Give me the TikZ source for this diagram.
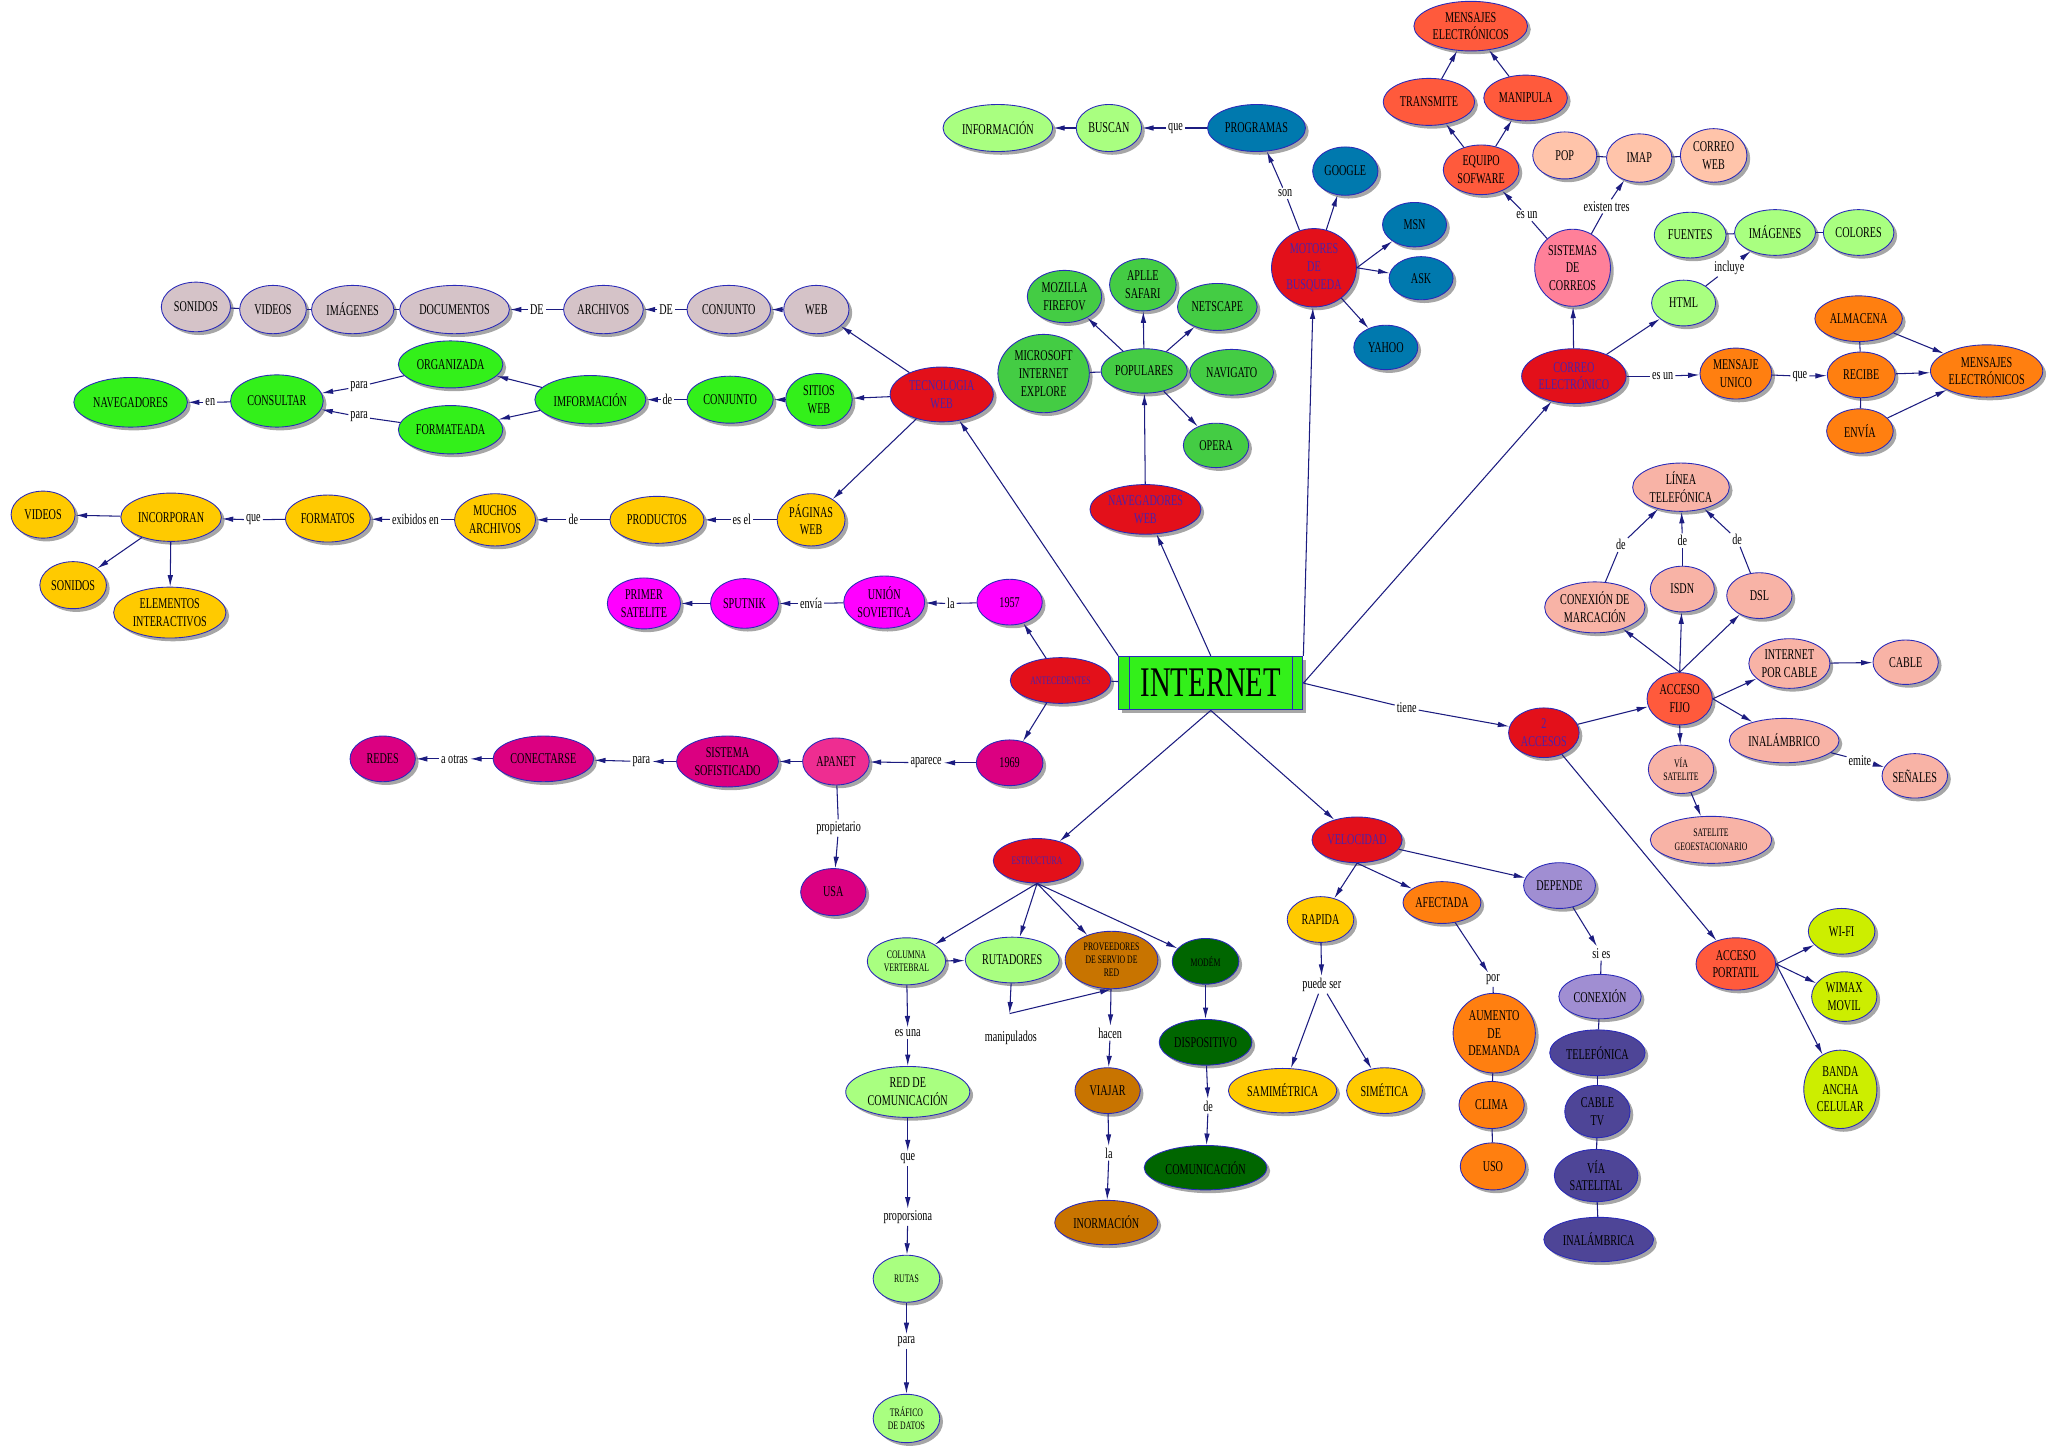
\documentclass[tikz,border=0pt]{standalone}
\usepackage{fontspec}
\setmainfont{Liberation Serif}[FakeStretch=0.68]
\usetikzlibrary{shapes.geometric,arrows.meta,shadows}

\definecolor{rojo}{HTML}{E3101A}
\definecolor{txtrojo}{HTML}{4A22AA}
\definecolor{grisrosa}{HTML}{D5C3C8}
\definecolor{verde}{HTML}{33F01A}
\definecolor{amarillo}{HTML}{FFCA00}
\definecolor{fucsia}{HTML}{FF00FF}
\definecolor{rosaosc}{HTML}{DB0081}
\definecolor{rosa}{HTML}{EE2D91}
\definecolor{verdeclaro}{HTML}{A9FF80}
\definecolor{cafe}{HTML}{C87400}
\definecolor{verdeosc}{HTML}{006600}
\definecolor{naranja}{HTML}{FF7F10}
\definecolor{lavanda}{HTML}{A08ED2}
\definecolor{morado}{HTML}{4E4597}
\definecolor{salmon}{HTML}{F8B3A6}
\definecolor{rojonar}{HTML}{FF5A3C}
\definecolor{limon}{HTML}{CCEE00}
\definecolor{azul}{HTML}{0079AE}
\definecolor{verdemed}{HTML}{44CC44}
\definecolor{rosasis}{HTML}{FF8099}
\definecolor{durazno}{HTML}{FFC4AA}
\definecolor{linea}{HTML}{1C1C80}
\definecolor{borde}{HTML}{2A2AB8}

\tikzset{
  concepto/.style={ellipse, draw=borde, line width=0.5pt, inner sep=0.5pt, align=center,
    font=\fontsize{8.5}{10}\selectfont,
    drop shadow={shadow xshift=0.65mm, shadow yshift=-0.65mm, fill=gray!70, opacity=1}},
  chico/.style={font=\fontsize{6.5}{7.5}\selectfont},
  enlace/.style={inner sep=1pt, font=\fontsize{8.5}{10}\selectfont},
  sz/.style 2 args={minimum width=#1*0.2612mm, minimum height=#2*0.2612mm},
  crojo/.style={concepto, fill=rojo, text=txtrojo, font=\fontsize{8.5}{10}\selectfont},
  cgris/.style={concepto, fill=grisrosa},
  cverde/.style={concepto, fill=verde},
  camar/.style={concepto, fill=amarillo},
  cfucsia/.style={concepto, fill=fucsia},
  crosaosc/.style={concepto, fill=rosaosc},
  crosa/.style={concepto, fill=rosa},
  cvclaro/.style={concepto, fill=verdeclaro},
  ccafe/.style={concepto, fill=cafe},
  cvosc/.style={concepto, fill=verdeosc},
  cnar/.style={concepto, fill=naranja},
  clav/.style={concepto, fill=lavanda},
  cmor/.style={concepto, fill=morado},
  csal/.style={concepto, fill=salmon},
  crojonar/.style={concepto, fill=rojonar},
  climon/.style={concepto, fill=limon},
  cazul/.style={concepto, fill=azul},
  cvmed/.style={concepto, fill=verdemed},
  crosasis/.style={concepto, fill=rosasis},
  cdur/.style={concepto, fill=durazno},
}

\begin{document}
\begin{tikzpicture}[x=0.2612mm, y=-0.2612mm, >={Latex[length=2.3mm,width=1.1mm]}]
  \useasboundingbox (0,0) rectangle (1568,1109);
  % centro
  \node[draw=borde, fill=verde, line width=0.6pt, sz={141}{41}, font=\fontsize{24}{24}\selectfont,
    drop shadow={shadow xshift=0.65mm, shadow yshift=-0.65mm, fill=gray!70, opacity=1}] (inet) at (927,523) {INTERNET};
  \draw[borde, line width=0.6pt] ([xshift=2.2mm]inet.north west) -- ([xshift=2.2mm]inet.south west);
  \draw[borde, line width=0.6pt] ([xshift=-2.2mm]inet.north east) -- ([xshift=-2.2mm]inet.south east);

  % tecnologia web
  \node[crojo, sz={79}{42}] (tec) at (721,302) {TECNOLOGIA\\WEB};
  \node[cgris, sz={50}{37}] (web) at (625,237) {WEB};
  \node[cgris, sz={64}{37}] (conj1) at (558,237) {CONJUNTO};
  \node[cgris, sz={61}{37}] (arch) at (462,237) {ARCHIVOS};
  \node[cgris, sz={84}{37}] (docu) at (348,237) {DOCUMENTOS};
  \node[cgris, sz={63}{37}] (imag1) at (270,237) {IMÁGENES};
  \node[cgris, sz={51}{37}] (vid1) at (209,237) {VIDEOS};
  \node[cgris, sz={53}{38}] (son1) at (150,235) {SONIDOS};
  \node[enlace] (lde1) at (510,237) {DE};
  \node[enlace] (lde2) at (411,237) {DE};
  \node[cverde, sz={51}{40}] (sitios) at (627,306) {SITIOS\\WEB};
  \node[cverde, sz={66}{36}] (conj2) at (559,306) {CONJUNTO};
  \node[cverde, sz={85}{37}] (imfo) at (452,306) {IMFORMACIÓN};
  \node[cverde, sz={80}{36}] (orga) at (345,279) {ORGANIZADA};
  \node[cverde, sz={80}{37}] (form1) at (345,329) {FORMATEADA};
  \node[cverde, sz={71}{40}] (consul) at (212,307) {CONSULTAR};
  \node[cverde, sz={87}{38}] (nave1) at (100,308) {NAVEGADORES};
  \node[enlace] (lde3) at (511,306) {de};
  \node[enlace] (lpara1) at (275,296) {para};
  \node[enlace] (lpara2) at (275,319) {para};
  \node[enlace] (len) at (161,308) {en};
  \node[camar, sz={52}{40}] (pag) at (621,398) {PÁGINAS\\WEB};
  \node[camar, sz={72}{36}] (prod) at (503,398) {PRODUCTOS};
  \node[camar, sz={62}{40}] (much) at (379,398) {MUCHOS\\ARCHIVOS};
  \node[camar, sz={65}{36}] (formt) at (251,397) {FORMATOS};
  \node[camar, sz={77}{37}] (incor) at (131,396) {INCORPORAN};
  \node[camar, sz={49}{36}] (vid2) at (33,394) {VIDEOS};
  \node[camar, sz={51}{36}] (son2) at (56,448) {SONIDOS};
  \node[camar, sz={86}{39}] (elem) at (130,469) {ELEMENTOS\\INTERACTIVOS};
  \node[enlace] (lesel) at (568,398) {es el};
  \node[enlace] (lde4) at (439,398) {de};
  \node[enlace] (lexib) at (318,398) {exibidos en};
  \node[enlace] (lque1) at (194,398) {que};

  % antecedentes
  \node[crojo, chico, sz={77}{35}] (ante) at (812,521) {ANTECEDENTES};
  \node[cfucsia, sz={50}{35}] (a1957) at (773,461) {1957};
  \node[cfucsia, sz={62}{40}] (union) at (677,461) {UNIÓN\\SOVIETICA};
  \node[cfucsia, sz={52}{38}] (sput) at (570,462) {SPUTNIK};
  \node[cfucsia, sz={56}{39}] (primer) at (493,462) {PRIMER\\SATELITE};
  \node[enlace] (lla1) at (728,462) {la};
  \node[enlace] (lenvia) at (621,462) {envía};
  \node[crosaosc, sz={51}{35}] (a1969) at (773,584) {1969};
  \node[crosa, sz={51}{36}] (apa) at (640,583) {APANET};
  \node[crosaosc, sz={78}{39}] (sist) at (557,583) {SISTEMA\\SOFISTICADO};
  \node[crosaosc, sz={77}{35}] (conec) at (416,581) {CONECTARSE};
  \node[crosaosc, sz={50}{35}] (redes) at (293,581) {REDES};
  \node[crosaosc, sz={50}{36}] (usa) at (638,683) {USA};
  \node[enlace] (lapar) at (709,584) {aparece};
  \node[enlace] (lpara3) at (491,583) {para};
  \node[enlace] (lotras) at (348,581) {a otras};
  \node[enlace] (lprop) at (642,634) {propietario};

  % estructura
  \node[crojo, chico, sz={67}{34}] (estr) at (794,659) {ESTRUCTURA};
  \node[cvclaro, chico, sz={60}{36}] (colu) at (694,736) {COLUMNA\\VERTEBRAL};
  \node[cvclaro, sz={72}{35}] (rut) at (775,735) {RUTADORES};
  \node[ccafe, chico, sz={71}{44}] (prov) at (851,735) {PROVEEDORES\\DE SERVIO DE\\RED};
  \node[cvosc, chico, sz={51}{35}] (modem) at (923,736) {MODÉM};
  \coordinate (jm) at (773,776);
  \node[enlace] (lmanip) at (774,795) {manipulados};
  \node[enlace] (lesuna) at (695,791) {es una};
  \node[cvclaro, sz={95}{39}] (redc) at (695,836) {RED DE\\COMUNICACIÓN};
  \node[enlace] (lque2) at (695,887) {que};
  \node[enlace] (lprop2) at (695,932) {proporsiona};
  \node[cvclaro, chico, sz={51}{36}] (rutas) at (694,979) {RUTAS};
  \node[enlace] (lpara4) at (694,1027) {para};
  \node[cvclaro, chico, sz={51}{37}] (traf) at (694,1086) {TRÁFICO\\DE DATOS};
  \node[enlace] (lhacen) at (850,791) {hacen};
  \node[ccafe, sz={50}{35}] (viajar) at (848,835) {VIAJAR};
  \node[enlace] (lla2) at (849,883) {la};
  \node[ccafe, sz={79}{34}] (inorm) at (847,936) {INORMACIÓN};
  \node[cvosc, sz={71}{35}] (disp) at (923,798) {DISPOSITIVO};
  \node[enlace] (lde5) at (925,847) {de};
  \node[cvosc, sz={94}{34}] (comu) at (923,894) {COMUNICACIÓN};

  % velocidad
  \node[crojo, sz={69}{35}] (velo) at (1039,643) {VELOCIDAD};
  \node[camar, sz={51}{35}] (rapida) at (1011,704) {RAPIDA};
  \node[cnar, sz={58}{32}] (afec) at (1104,691) {AFECTADA};
  \node[clav, sz={55}{35}] (depe) at (1194,678) {DEPENDE};
  \node[enlace] (lpuede) at (1012,754) {puede ser};
  \node[camar, sz={83}{34}] (samim) at (982,835) {SAMIMÉTRICA};
  \node[camar, sz={58}{35}] (simet) at (1060,835) {SIMÉTICA};
  \node[enlace] (lpor) at (1143,750) {por};
  \node[cnar, sz={63}{61}] (aument) at (1144,791) {AUMENTO\\DE\\DEMANDA};
  \node[cnar, sz={50}{36}] (clima) at (1142,846) {CLIMA};
  \node[cnar, sz={50}{36}] (uso) at (1143,893) {USO};
  \node[enlace] (lsies) at (1226,730) {si es};
  \node[clav, sz={63}{34}] (conex) at (1225,763) {CONEXIÓN};
  \node[cmor, sz={73}{35}] (telef) at (1223,806) {TELEFÓNICA};
  \node[cmor, sz={50}{40}] (cabtv) at (1223,851) {CABLE\\TV};
  \node[cmor, sz={64}{40}] (viasat) at (1222,900) {VÍA\\SATELITAL};
  \node[cmor, sz={84}{34}] (inal2) at (1224,949) {INALÁMBRICA};

  % accesos
  \node[enlace] (ltiene) at (1077,542) {tiene};
  \node[crojo, sz={54}{38}] (acc2) at (1182,561) {2\\ACCESOS};
  \node[crojonar, sz={50}{40}] (fijo) at (1286,535) {ACCESO\\FIJO};
  \node[crojonar, sz={61}{40}] (port) at (1329,738) {ACCESO\\PORTATIL};
  \node[climon, sz={51}{35}] (wifi) at (1410,713) {WI-FI};
  \node[climon, sz={50}{38}] (wimax) at (1412,763) {WIMAX\\MOVIL};
  \node[climon, sz={56}{60}] (banda) at (1409,834) {BANDA\\ANCHA\\CELULAR};
  \node[csal, sz={74}{37}] (lintel) at (1287,373) {LÍNEA\\TELEFÓNICA};
  \node[csal, sz={76}{39}] (marc) at (1221,465) {CONEXIÓN DE\\MARCACIÓN};
  \node[csal, sz={49}{35}] (isdn) at (1288,451) {ISDN};
  \node[csal, sz={50}{35}] (dsl) at (1347,456) {DSL};
  \node[enlace] (lde6) at (1241,417) {de};
  \node[enlace] (lde7) at (1288,414) {de};
  \node[enlace] (lde8) at (1330,413) {de};
  \node[csal, sz={62}{38}] (icable) at (1370,508) {INTERNET\\POR CABLE};
  \node[csal, sz={50}{34}] (cable) at (1459,507) {CABLE};
  \node[csal, sz={84}{34}] (inal1) at (1366,567) {INALÁMBRICO};
  \node[enlace] (lemite) at (1424,582) {emite};
  \node[csal, sz={49}{34}] (senal) at (1466,594) {SEÑALES};
  \node[csal, chico, sz={50}{37}] (viasate) at (1287,589) {VÍA\\SATELITE};
  \node[csal, chico, sz={93}{36}] (geo) at (1310,643) {SATELITE\\GEOESTACIONARIO};

  % correo
  \node[crojo, sz={80}{42}] (correo) at (1205,288) {CORREO\\ELECTRÓNICO};
  \node[crosasis, sz={58}{59}] (sistc) at (1204,205) {SISTEMAS\\DE\\CORREOS};
  \node[enlace] (lesun1) at (1169,165) {es un};
  \node[crojonar, sz={58}{38}] (equipo) at (1134,130) {EQUIPO\\SOFWARE};
  \node[crojonar, sz={70}{36}] (trans) at (1094,78) {TRANSMITE};
  \node[crojonar, sz={64}{35}] (manip) at (1168,75) {MANIPULA};
  \node[crojonar, sz={87}{38}] (mens1) at (1126,20) {MENSAJES\\ELECTRÓNICOS};
  \node[enlace] (lexist) at (1230,158) {existen tres};
  \node[cdur, sz={49}{36}] (pop) at (1198,119) {POP};
  \node[cdur, sz={50}{37}] (imap) at (1255,121) {IMAP};
  \node[cdur, sz={51}{41}] (cweb) at (1312,119) {CORREO\\WEB};
  \node[cvclaro, sz={49}{35}] (html) at (1289,232) {HTML};
  \node[enlace] (lincl) at (1324,205) {incluye};
  \node[cvclaro, sz={55}{35}] (fuen) at (1294,180) {FUENTES};
  \node[cvclaro, sz={62}{35}] (imag2) at (1359,178) {IMÁGENES};
  \node[cvclaro, sz={54}{35}] (colo) at (1423,178) {COLORES};
  \node[enlace] (lesun2) at (1273,288) {es un};
  \node[cnar, sz={55}{39}] (munico) at (1329,286) {MENSAJE\\UNICO};
  \node[enlace] (lque3) at (1378,288) {que};
  \node[cnar, sz={52}{35}] (recibe) at (1425,287) {RECIBE};
  \node[cnar, sz={67}{35}] (almac) at (1423,244) {ALMACENA};
  \node[cnar, sz={51}{34}] (envia) at (1424,330) {ENVÍA};
  \node[cnar, sz={86}{40}] (mens2) at (1521,284) {MENSAJES\\ELECTRÓNICOS};

  % motores de busqueda
  \node[crojo, sz={65}{60}] (motor) at (1006,205) {MOTORES\\DE\\BUSQUEDA};
  \node[enlace] (lson) at (984,148) {son};
  \node[cazul, sz={75}{36}] (prog) at (962,98) {PROGRAMAS};
  \node[enlace] (lque4) at (900,98) {que};
  \node[cvclaro, sz={50}{36}] (busc) at (849,98) {BUSCAN};
  \node[cvclaro, sz={84}{36}] (info) at (764,98) {INFORMACIÓN};
  \node[cazul, sz={50}{37}] (google) at (1030,131) {GOOGLE};
  \node[cazul, sz={49}{34}] (msn) at (1083,172) {MSN};
  \node[cazul, sz={49}{33}] (ask) at (1088,213) {ASK};
  \node[cazul, sz={49}{34}] (yahoo) at (1061,266) {YAHOO};

  % navegadores
  \node[crojo, sz={85}{38}] (navweb) at (877,390) {NAVEGADORES\\WEB};
  \node[cvmed, sz={66}{34}] (popu) at (876,284) {POPULARES};
  \node[cvmed, sz={70}{60}] (micro) at (799,286) {MICROSOFT\\INTERNET\\EXPLORE};
  \node[cvmed, sz={57}{40}] (mozi) at (815,227) {MOZILLA\\FIREFOV};
  \node[cvmed, sz={51}{40}] (aplle) at (875,218) {APLLE\\SAFARI};
  \node[cvmed, sz={61}{36}] (netsc) at (932,235) {NETSCAPE};
  \node[cvmed, sz={64}{35}] (navig) at (943,285) {NAVIGATO};
  \node[cvmed, sz={50}{34}] (opera) at (931,341) {OPERA};

  \begin{scope}[draw=linea, line width=0.6pt]
    % flechas directas
    \foreach \a/\b in {inet.north west/tec, inet.north/navweb, inet.north east/motor, inet.east/correo,
      inet.south/estr, inet.south/velo, tec/web, web/conj1, tec/sitios, sitios/conj2, imfo/orga, imfo/form1,
      tec/pag, incor/vid2, incor/son2, incor/elem, ante/a1957, ante/a1969, sput/primer, apa/sist,
      estr.south/colu, estr.south/rut, estr.south/prov, estr.south/modem, colu/rut, rut/jm, jm/prov.south,
      redc/lque2, lque2/lprop2, lprop2/rutas, modem/disp, velo.south/rapida, velo.south/afec, velo/depe,
      rapida/lpuede, lpuede/samim, lpuede/simet, afec/lpor, depe/lsies, acc2/fijo, acc2/port,
      fijo.north/marc, fijo.north/isdn, fijo.north/dsl, fijo.east/icable, fijo.east/inal1, fijo.south/viasate,
      icable/cable, viasate/geo, port.east/wifi, port.east/wimax, port.east/banda,
      correo/sistc, correo/html, equipo/trans, equipo/manip, trans/mens1, manip/mens1,
      almac/mens2, recibe/mens2, envia/mens2, busc/info, motor/google, motor.east/msn, motor.east/ask,
      motor/yahoo, navweb/popu, popu/mozi, popu/aplle, popu/netsc, popu/opera}
      \draw[->] (\a) -- (\b);
    % enlaces con frase
    \foreach \a/\l/\b in {conj1/lde1/arch, arch/lde2/docu, conj2/lde3/imfo, orga/lpara1/consul,
      form1/lpara2/consul, consul/len/nave1, pag/lesel/prod, prod/lde4/much, much/lexib/formt,
      formt/lque1/incor, a1957/lla1/union, union/lenvia/sput, apa/lprop/usa, inet.east/ltiene/acc2,
      marc/lde6/lintel, isdn/lde7/lintel, dsl/lde8/lintel, inal1/lemite/senal, sistc/lesun1/equipo,
      sistc/lexist/imap, html/lincl/imag2, correo/lesun2/munico, munico/lque3/recibe,
      motor/lson/prog, prog/lque4/busc}
      {\draw (\a) -- (\l); \draw[->] (\l) -- (\b);}
    % frase con dos flechas
    \foreach \a/\l/\b in {a1969/lapar/apa, sist/lpara3/conec, conec/lotras/redes, colu/lesuna/redc,
      rutas/lpara4/traf, prov/lhacen/viajar, viajar/lla2/inorm, disp/lde5/comu}
      {\draw[->] (\a) -- (\l); \draw[->] (\l) -- (\b);}
    % lineas simples
    \foreach \a/\b in {inet/ante, docu/imag1, imag1/vid1, vid1/son1, popu/micro, lpor/aument,
      aument/clima, clima/uso, lsies/conex, conex/telef, telef/cabtv, cabtv/viasat, viasat/inal2,
      pop/imap, imap/cweb, fuen/imag2, imag2/colo, almac/recibe, recibe/envia}
      \draw (\a) -- (\b);
  \end{scope}
\end{tikzpicture}
\end{document}
